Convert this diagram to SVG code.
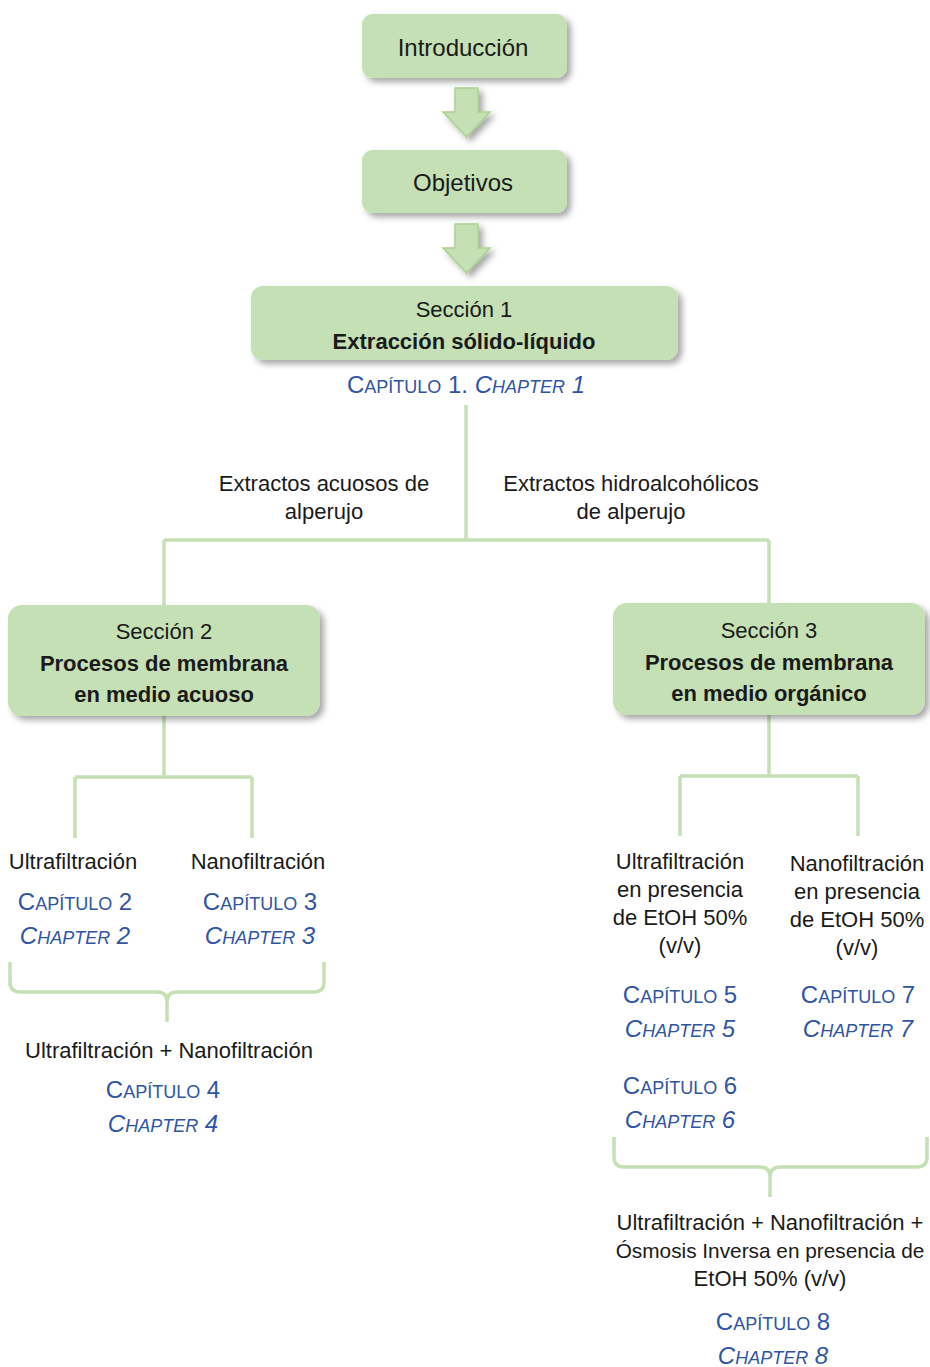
<svg xmlns="http://www.w3.org/2000/svg" width="930" height="1367" viewBox="0 0 930 1367">
<style>
.box{fill:#c5e0b4;filter:url(#sh)}
.t{font-family:"Liberation Sans",Arial,sans-serif;font-size:22px;fill:#1a1a1a;text-anchor:middle}
.big{font-size:24px}
.b{font-weight:bold}
.c{font-family:"Liberation Sans",Arial,sans-serif;font-size:24px;fill:#2f55a4;text-anchor:middle}
.i{font-style:italic}
.sm{font-size:18px}
.ln{fill:none;stroke:#c5e0b4;stroke-width:3.5;stroke-linejoin:round}
.ar{fill:#c5e0b4;stroke:#a9d18e;stroke-width:1.5;filter:url(#sh)}
</style>
<defs>
<filter id="sh" x="-10%" y="-20%" width="130%" height="150%">
<feDropShadow dx="4" dy="4" stdDeviation="3" flood-color="#000" flood-opacity="0.35"/>
</filter>
</defs>
<rect width="930" height="1367" fill="#fff"/>
<g id="connectors">
<path class="ar" d="M455,88 H478 V112 H490 L466.5,137 L443,112 H455 Z"/>
<path class="ar" d="M455,224 H478 V248 H490 L466.5,273 L443,248 H455 Z"/>
<path class="ln" d="M466,405 V540 M164,540 H769 M164,540 V605 M769,540 V603"/>
<path class="ln" d="M164,716 V777 M75,777 H252 M75,777 V838 M252,777 V838"/>
<path class="ln" d="M769,715 V776 M680,776 H858 M680,776 V836 M858,776 V836"/>
<path class="ln" d="M10,962 V982 Q10,992 20,992 H157 Q167,992 167,1002 V1022 M324,962 V982 Q324,992 314,992 H177 Q167,992 167,1002"/>
<path class="ln" d="M614,1137 V1157 Q614,1167 624,1167 H760 Q770,1167 770,1177 V1197 M927,1137 V1157 Q927,1167 917,1167 H780 Q770,1167 770,1177"/>
</g>
<g id="introduccion">
<rect class="box" x="362" y="14" width="205" height="64" rx="11"/>
<text class="t big" x="463" y="56">Introducción</text>
</g>
<g id="objetivos">
<rect class="box" x="362" y="150" width="205" height="63" rx="11"/>
<text class="t big" x="463" y="191">Objetivos</text>
</g>
<g id="seccion1">
<rect class="box" x="251" y="286" width="427" height="74" rx="12"/>
<text class="t" x="464" y="317">Sección 1</text>
<text class="t b" x="464" y="349">Extracción sólido-líquido</text>
<text class="c" x="466" y="393">C<tspan class="sm">APÍTULO</tspan> 1. <tspan class="i">C<tspan class="sm">HAPTER</tspan> 1</tspan></text>
</g>
<g id="label-acuosos">
<text class="t" x="324" y="491">Extractos acuosos de</text>
<text class="t" x="324" y="519">alperujo</text>
</g>
<g id="label-hidro">
<text class="t" x="631" y="491">Extractos hidroalcohólicos</text>
<text class="t" x="631" y="519">de alperujo</text>
</g>
<g id="seccion2">
<rect class="box" x="8" y="605" width="312" height="111" rx="14"/>
<text class="t" x="164" y="639">Sección 2</text>
<text class="t b" x="164" y="671">Procesos de membrana</text>
<text class="t b" x="164" y="702">en medio acuoso</text>
</g>
<g id="seccion3">
<rect class="box" x="613" y="603" width="312" height="112" rx="14"/>
<text class="t" x="769" y="638">Sección 3</text>
<text class="t b" x="769" y="670">Procesos de membrana</text>
<text class="t b" x="769" y="701">en medio orgánico</text>
</g>
<g id="uf">
<text class="t" x="73" y="869">Ultrafiltración</text>
<text class="c" x="75" y="910">C<tspan class="sm">APÍTULO</tspan> 2</text>
<text class="c i" x="75" y="944">C<tspan class="sm">HAPTER</tspan> 2</text>
</g>
<g id="nf">
<text class="t" x="258" y="869">Nanofiltración</text>
<text class="c" x="260" y="910">C<tspan class="sm">APÍTULO</tspan> 3</text>
<text class="c i" x="260" y="944">C<tspan class="sm">HAPTER</tspan> 3</text>
</g>
<g id="uf-nf">
<text class="t" x="169" y="1058">Ultrafiltración + Nanofiltración</text>
<text class="c" x="163" y="1098">C<tspan class="sm">APÍTULO</tspan> 4</text>
<text class="c i" x="163" y="1132">C<tspan class="sm">HAPTER</tspan> 4</text>
</g>
<g id="uf-etoh">
<text class="t" x="680" y="869">Ultrafiltración</text>
<text class="t" x="680" y="897">en presencia</text>
<text class="t" x="680" y="925">de EtOH 50%</text>
<text class="t" x="680" y="953">(v/v)</text>
<text class="c" x="680" y="1003">C<tspan class="sm">APÍTULO</tspan> 5</text>
<text class="c i" x="680" y="1037">C<tspan class="sm">HAPTER</tspan> 5</text>
<text class="c" x="680" y="1094">C<tspan class="sm">APÍTULO</tspan> 6</text>
<text class="c i" x="680" y="1128">C<tspan class="sm">HAPTER</tspan> 6</text>
</g>
<g id="nf-etoh">
<text class="t" x="857" y="871">Nanofiltración</text>
<text class="t" x="857" y="899">en presencia</text>
<text class="t" x="857" y="927">de EtOH 50%</text>
<text class="t" x="857" y="955">(v/v)</text>
<text class="c" x="858" y="1003">C<tspan class="sm">APÍTULO</tspan> 7</text>
<text class="c i" x="858" y="1037">C<tspan class="sm">HAPTER</tspan> 7</text>
</g>
<g id="uf-nf-oi">
<text class="t" x="770" y="1230">Ultrafiltración + Nanofiltración +</text>
<text class="t" x="770" y="1258" style="font-size:20.8px">Ósmosis Inversa en presencia de</text>
<text class="t" x="770" y="1286">EtOH 50% (v/v)</text>
<text class="c" x="773" y="1330">C<tspan class="sm">APÍTULO</tspan> 8</text>
<text class="c i" x="773" y="1364">C<tspan class="sm">HAPTER</tspan> 8</text>
</g>
</svg>
